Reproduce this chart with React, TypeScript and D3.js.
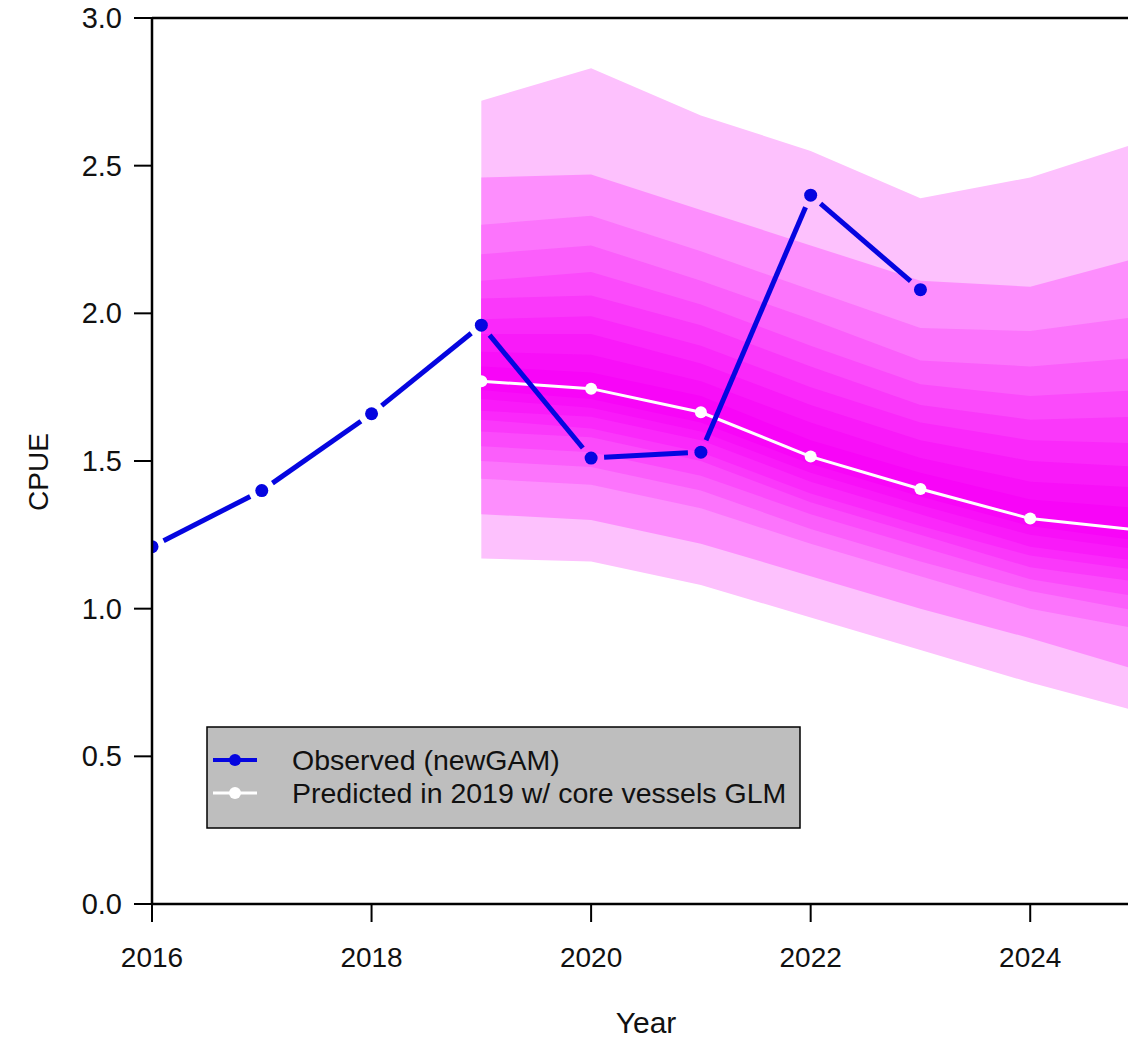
import React from 'react';
import * as d3 from 'd3';

// observed index (newGAM)
const obsYears = [2016, 2017, 2018, 2019, 2020, 2021, 2022, 2023];
const obsValues = [1.21, 1.4, 1.66, 1.96, 1.51, 1.53, 2.4, 2.08];

// projection made in 2019 (core vessels GLM)
const fanYears = [2019, 2020, 2021, 2022, 2023, 2024, 2025];
const fanMedian = [1.77, 1.745, 1.665, 1.515, 1.405, 1.305, 1.265];

// fan edges, outer (1%/99%) to inner (45%/55%)
const fanUpper = [
	[2.72, 2.83, 2.67, 2.55, 2.39, 2.46, 2.58],
	[2.46, 2.47, 2.35, 2.23, 2.11, 2.09, 2.19],
	[2.3, 2.33, 2.21, 2.08, 1.95, 1.94, 1.99],
	[2.2, 2.23, 2.11, 1.98, 1.84, 1.82, 1.85],
	[2.11, 2.14, 2.03, 1.89, 1.76, 1.72, 1.74],
	[2.05, 2.06, 1.96, 1.82, 1.69, 1.64, 1.65],
	[1.98, 1.99, 1.89, 1.75, 1.63, 1.57, 1.56],
	[1.93, 1.93, 1.83, 1.69, 1.57, 1.5, 1.48],
	[1.87, 1.86, 1.77, 1.63, 1.51, 1.43, 1.41],
	[1.82, 1.8, 1.72, 1.57, 1.46, 1.37, 1.34],
];
const fanLower = [
	[1.17, 1.16, 1.08, 0.97, 0.86, 0.75, 0.65],
	[1.32, 1.3, 1.22, 1.11, 1.0, 0.9, 0.79],
	[1.44, 1.42, 1.34, 1.22, 1.11, 1.0, 0.93],
	[1.5, 1.48, 1.4, 1.27, 1.16, 1.06, 0.99],
	[1.55, 1.53, 1.45, 1.32, 1.21, 1.1, 1.04],
	[1.6, 1.58, 1.5, 1.36, 1.25, 1.14, 1.09],
	[1.64, 1.61, 1.53, 1.39, 1.28, 1.18, 1.13],
	[1.67, 1.65, 1.57, 1.43, 1.32, 1.21, 1.16],
	[1.71, 1.68, 1.6, 1.46, 1.35, 1.25, 1.2],
	[1.74, 1.71, 1.63, 1.49, 1.38, 1.28, 1.23],
];

const yTicks = [0, 0.5, 1, 1.5, 2, 2.5, 3];
const xTicks = [2016, 2018, 2020, 2022, 2024];
const legendLabels = ['Observed (newGAM)', 'Predicted in 2019 w/ core vessels GLM'];

const bandColors = [
	'#fdc1fd', '#fd8efd', '#fc74fc', '#fb5efb', '#fb4afb',
	'#fa38fa', '#fa28fa', '#f91af9', '#f80ff8', '#f805f8',
];

const W = 1128;
const H = 1039;
const FONT = '"Liberation Sans", Arial, Helvetica, sans-serif';
const BLUE = '#0505e0';

const x = d3.scaleLinear().domain([2016, 2025]).range([152, 1140]);
const y = d3.scaleLinear().domain([0, 3]).range([904, 18]);

const App = () => {
	const bands = fanUpper.map((up, i) => {
		const area = d3
			.area<number>()
			.x((_, j) => x(fanYears[j]))
			.y0((_, j) => y(fanLower[i][j]))
			.y1((_, j) => y(up[j]));
		return area(up) as string;
	});

	const medLine = d3
		.line<number>()
		.x((_, j) => x(fanYears[j]))
		.y((d) => y(d))(fanMedian) as string;

	// type "b" style: segments stop short of the points
	const gap = 13;
	const obsSegs = obsValues.slice(1).map((v, k) => {
		const x0 = x(obsYears[k]);
		const y0 = y(obsValues[k]);
		const x1 = x(obsYears[k + 1]);
		const y1 = y(v);
		const len = Math.hypot(x1 - x0, y1 - y0);
		const ux = (x1 - x0) / len;
		const uy = (y1 - y0) / len;
		return {
			x1: x0 + ux * gap,
			y1: y0 + uy * gap,
			x2: x1 - ux * gap,
			y2: y1 - uy * gap,
		};
	});

	return (
		<svg
			width={W}
			height={H}
			style={{ position: 'absolute', left: 0, top: 0, background: '#fff' }}
			fontFamily={FONT}
		>
			<defs>
				<clipPath id="plot">
					<rect x={152} y={0} width={W - 152} height={904} />
				</clipPath>
			</defs>

			<g clipPath="url(#plot)">
				{bands.map((d, i) => (
					<path key={i} d={d} fill={bandColors[i]} />
				))}
				<path d={medLine} fill="none" stroke="#fff" strokeWidth={3} />
				{fanMedian.map((v, j) => (
					<circle key={j} cx={x(fanYears[j])} cy={y(v)} r={6} fill="#fff" />
				))}
				{obsSegs.map((s, k) => (
					<line
						key={k}
						{...s}
						stroke={BLUE}
						strokeWidth={5}
						strokeLinecap="butt"
					/>
				))}
				{obsValues.map((v, k) => (
					<circle key={k} cx={x(obsYears[k])} cy={y(v)} r={6.5} fill={BLUE} />
				))}
			</g>

			{/* box (right side cut off) */}
			<line x1={152} x2={W} y1={18} y2={18} stroke="#000" strokeWidth={2.5} />
			<line x1={152} x2={W} y1={904} y2={904} stroke="#000" strokeWidth={2.5} />
			<line x1={152} x2={152} y1={18} y2={904} stroke="#000" strokeWidth={2.5} />

			{/* y axis */}
			{yTicks.map((t) => (
				<g key={t}>
					<line x1={134} x2={152} y1={y(t)} y2={y(t)} stroke="#000" strokeWidth={2} />
					<text
						x={122}
						y={y(t)}
						textAnchor="end"
						dominantBaseline="central"
						fontSize={29}
						fill="#111"
					>
						{t.toFixed(1)}
					</text>
				</g>
			))}

			{/* x axis */}
			{xTicks.map((t) => (
				<g key={t}>
					<line x1={x(t)} x2={x(t)} y1={904} y2={922} stroke="#000" strokeWidth={2} />
					<text x={x(t)} y={967} textAnchor="middle" fontSize={28} fill="#111">
						{t}
					</text>
				</g>
			))}

			<text x={646} y={1033} textAnchor="middle" fontSize={30} fill="#111">
				Year
			</text>
			<text
				transform="translate(48,472) rotate(-90)"
				textAnchor="middle"
				fontSize={28}
				fill="#111"
			>
				CPUE
			</text>

			{/* legend */}
			<rect x={207} y={727} width={593} height={101} fill="#bebebe" stroke="#000" strokeWidth={1.5} />
			{legendLabels.map((lab, i) => {
				const cy = 760 + i * 33;
				const col = i === 0 ? BLUE : '#fff';
				return (
					<g key={lab}>
						<line x1={213} x2={257} y1={cy} y2={cy} stroke={col} strokeWidth={i === 0 ? 4 : 3} />
						<circle cx={235} cy={cy} r={6} fill={col} />
						<text x={292} y={cy} dominantBaseline="central" fontSize={28.5} fill="#111">
							{lab}
						</text>
					</g>
				);
			})}
		</svg>
	);
};

export default App;
